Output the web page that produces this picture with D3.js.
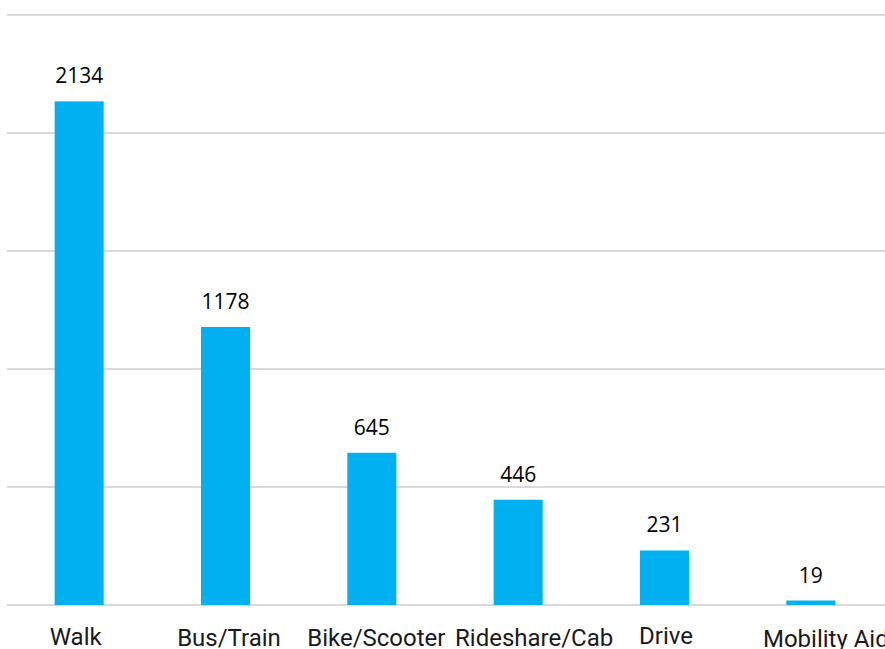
<!DOCTYPE html>
<html><head><meta charset="utf-8">
<script src="https://cdn.jsdelivr.net/npm/d3@7"></script>
<style>html,body{margin:0;padding:0;background:#fff;overflow:hidden}</style>
</head><body><svg id="c" width="885" height="649"></svg>
<script>
const categories = ["Walk","Bus/Train","Bike/Scooter","Rideshare/Cab","Drive","Mobility Aid"];
const values = [2134,1178,645,446,231,19];
const yTicks = [0,500,1000,1500,2000,2500];
const labelShiftX = [-3.5,3.5,4.5,16,1.5,15];
const labelShiftY = [0,1,1,1,-1,2];

const svg = d3.select("#c");
const x = d3.scaleBand().domain(categories).range([6,884]).paddingInner(0.665).paddingOuter(0.3325);
const y = d3.scaleLinear().domain([0,2500]).range([605,15]);

svg.append("g").selectAll("line").data(yTicks).join("line")
  .attr("x1",7).attr("x2",885)
  .attr("y1",d=>y(d)).attr("y2",d=>y(d))
  .attr("stroke","#d9d9d9").attr("stroke-width",2);

svg.append("g").selectAll("rect").data(values).join("rect")
  .attr("x",(d,i)=>x(categories[i]))
  .attr("width",x.bandwidth())
  .attr("y",d=>y(d))
  .attr("height",d=>y(0)-y(d))
  .attr("fill","#00b0f0");

svg.append("g").selectAll("text").data(values).join("text")
  .attr("x",(d,i)=>x(categories[i])+x.bandwidth()/2)
  .attr("y",d=>y(d)-18)
  .attr("text-anchor","middle")
  .attr("font-family","'Open Sans', sans-serif")
  .attr("font-size",21)
  .attr("fill","#000")
  .text(d=>d);

svg.append("g").selectAll("text").data(categories).join("text")
  .attr("x",(d,i)=>x(d)+x.bandwidth()/2+labelShiftX[i])
  .attr("y",(d,i)=>645+labelShiftY[i])
  .attr("text-anchor","middle")
  .attr("font-family","Roboto, sans-serif")
  .attr("font-size",24)
  .attr("fill","#1a1a1a")
  .text(d=>d);
</script></body></html>
